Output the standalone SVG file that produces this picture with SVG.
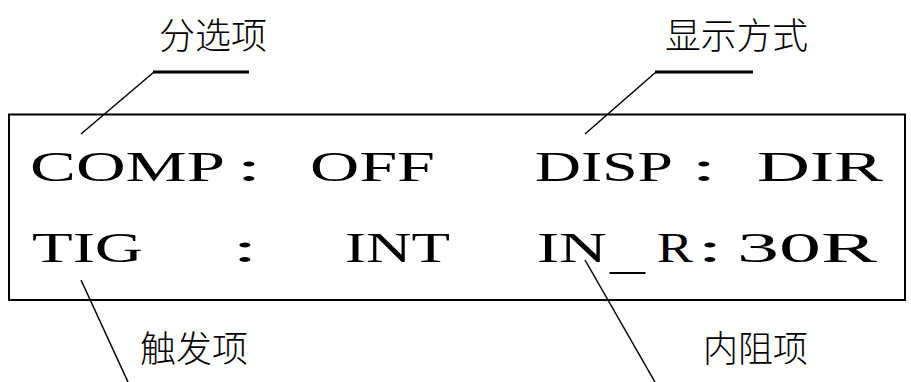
<svg xmlns="http://www.w3.org/2000/svg" width="911" height="382" viewBox="0 0 911 382">
<style>
.lcd{font-family:"Liberation Serif","Times New Roman",serif;font-size:42px;fill:#000}
.lbl{font-family:"Noto Sans CJK SC","Noto Sans CJK JP",sans-serif;font-size:36px;font-weight:300;fill:#000}
.thin{stroke:#000;stroke-width:1.5;fill:none}
.thick{stroke:#000;stroke-width:3;fill:none}
</style>
<rect width="911" height="382" fill="#fff"/>
<g id="display">
<rect x="9" y="114.5" width="896" height="185.5" fill="none" stroke="#000" stroke-width="2"/>
<text class="lcd" x="30" y="181" textLength="195" lengthAdjust="spacingAndGlyphs">COMP</text>
<text class="lcd" x="236" y="181" textLength="26" lengthAdjust="spacingAndGlyphs">:</text>
<text class="lcd" x="310" y="181" textLength="125" lengthAdjust="spacingAndGlyphs">OFF</text>
<text class="lcd" x="535" y="181" textLength="138" lengthAdjust="spacingAndGlyphs">DISP</text>
<text class="lcd" x="691" y="181" textLength="26" lengthAdjust="spacingAndGlyphs">:</text>
<text class="lcd" x="757" y="181" textLength="126" lengthAdjust="spacingAndGlyphs">DIR</text>
<text class="lcd" x="32" y="262" textLength="111" lengthAdjust="spacingAndGlyphs">TIG</text>
<text class="lcd" x="232" y="262" textLength="26" lengthAdjust="spacingAndGlyphs">:</text>
<text class="lcd" x="345" y="262" textLength="105" lengthAdjust="spacingAndGlyphs">INT</text>
<text class="lcd" x="537" y="262" textLength="70" lengthAdjust="spacingAndGlyphs">IN</text>
<text class="lcd" x="610" y="269" textLength="35" lengthAdjust="spacingAndGlyphs">_</text>
<text class="lcd" x="657" y="262" textLength="36" lengthAdjust="spacingAndGlyphs">R</text>
<text class="lcd" x="697" y="262" textLength="26" lengthAdjust="spacingAndGlyphs">:</text>
<text class="lcd" x="737" y="262" textLength="140" lengthAdjust="spacingAndGlyphs">30R</text>
</g>
<g id="label-comp"><text class="lbl" x="159" y="49" textLength="108" lengthAdjust="spacingAndGlyphs">分选项</text></g>
<g id="label-disp"><text class="lbl" x="665" y="49" textLength="143" lengthAdjust="spacingAndGlyphs">显示方式</text></g>
<g id="label-tig"><text class="lbl" x="140" y="362" textLength="108" lengthAdjust="spacingAndGlyphs">触发项</text></g>
<g id="label-inr"><text class="lbl" x="703" y="362" textLength="105" lengthAdjust="spacingAndGlyphs">内阻项</text></g>
<g id="connectors">
<line class="thick" x1="153" y1="72" x2="249" y2="72"/>
<line class="thin" x1="154" y1="72" x2="81" y2="134"/>
<line class="thick" x1="655" y1="72" x2="753" y2="72"/>
<line class="thin" x1="656" y1="72" x2="585" y2="134"/>
<line class="thin" x1="81" y1="280" x2="128" y2="382"/>
<line class="thin" x1="585" y1="260" x2="655" y2="382"/>
</g>
</svg>
